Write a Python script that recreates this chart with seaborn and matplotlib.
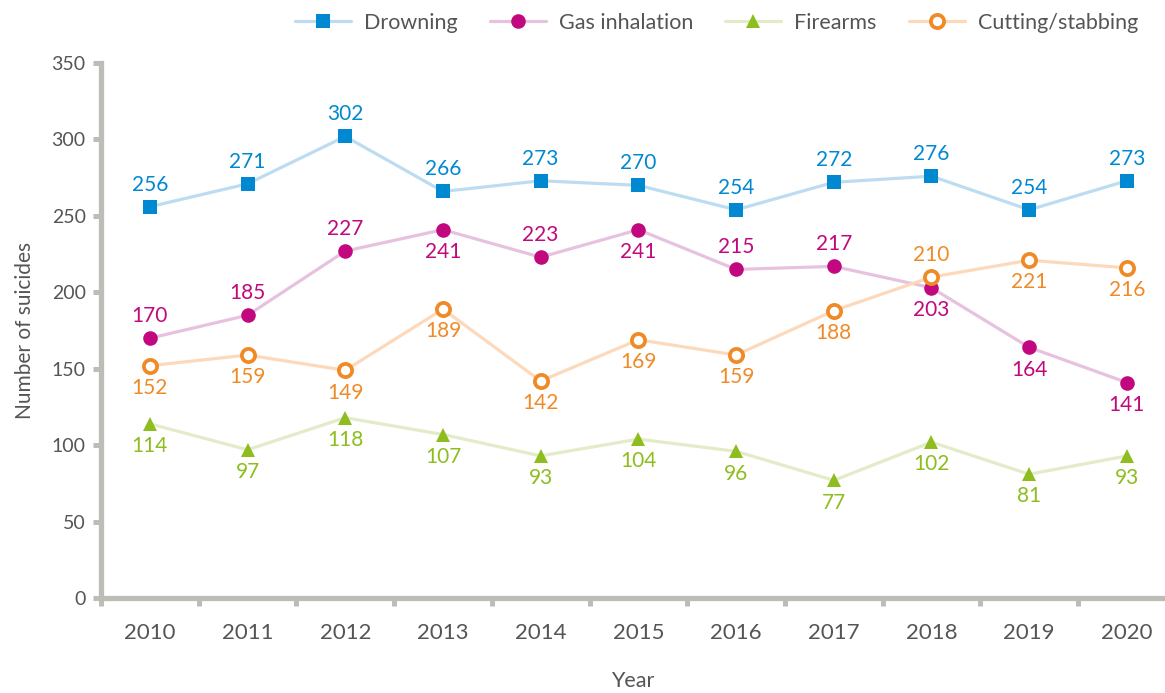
import matplotlib
matplotlib.use("Agg")
import matplotlib.pyplot as plt
import seaborn as sns
import pandas as pd

years = [2010, 2011, 2012, 2013, 2014, 2015, 2016, 2017, 2018, 2019, 2020]
drowning = [256, 271, 302, 266, 273, 270, 254, 272, 276, 254, 273]
gas = [170, 185, 227, 241, 223, 241, 215, 217, 203, 164, 141]
firearms = [114, 97, 118, 107, 93, 104, 96, 77, 102, 81, 93]
cutting = [152, 159, 149, 189, 142, 169, 159, 188, 210, 221, 216]

# label placement: 1 = above the marker, -1 = below
drowning_pos = [1] * 11
gas_pos = [1, 1, 1, -1, 1, -1, 1, 1, -1, -1, -1]
firearms_pos = [-1] * 11
cutting_pos = [-1, -1, -1, -1, -1, -1, -1, -1, 1, -1, -1]

series = [
    ("Drowning", drowning, drowning_pos, "#0088d1", "#bddcf2", "s", True),
    ("Gas inhalation", gas, gas_pos, "#c1087f", "#e7c2de", "o", True),
    ("Firearms", firearms, firearms_pos, "#8dbd1e", "#e3ecc9", "^", True),
    ("Cutting/stabbing", cutting, cutting_pos, "#f08a26", "#fdd9bc", "o", False),
]

sns.set_style("white")
plt.rcParams["font.family"] = ["Lato", "DejaVu Sans"]

axis_grey = "#bdbdb7"
text_grey = "#555555"

fig = plt.figure(figsize=(11.65, 6.93), dpi=100)
ax = fig.add_axes([0.0867, 0.137, 0.9133, 0.772])

for name, vals, pos, dark, light, mk, filled in series:
    df = pd.DataFrame({"year": years, "value": vals})
    sns.lineplot(data=df, x="year", y="value", ax=ax, color=light, linewidth=2.3,
                 marker=mk, markersize=10.5 if filled else 9.5,
                 markerfacecolor=dark if filled else "white",
                 markeredgecolor=dark, markeredgewidth=0 if filled else 2.7,
                 label=name)
    for x, v, p in zip(years, vals, pos):
        ax.annotate(str(v), (x, v), xytext=(0, 16 * p), textcoords="offset points",
                    ha="center", va="center", fontsize=15, color=dark)

ax.set_ylim(0, 350)
ax.set_xlim(2009.5, 2020.39)
ax.set_yticks(range(0, 351, 50))
ax.set_xticks(years)
ax.set_xticks([y - 0.5 for y in years], minor=True)

for side in ["top", "right"]:
    ax.spines[side].set_visible(False)
for side in ["left", "bottom"]:
    ax.spines[side].set_color(axis_grey)
    ax.spines[side].set_linewidth(3.8)

ax.tick_params(axis="y", which="major", left=True, length=6, width=3.6, color=axis_grey,
               labelsize=14, labelcolor=text_grey, pad=5)
ax.tick_params(axis="x", which="major", bottom=True, length=0, labelsize=16,
               labelcolor=text_grey, pad=18)
ax.tick_params(axis="x", which="minor", bottom=True, length=6, width=3.6, color=axis_grey)

ax.set_xlabel("Year", fontsize=15.5, color=text_grey, labelpad=20)
ax.set_ylabel("Number of suicides", fontsize=15, color=text_grey, labelpad=12)

ax.legend(loc="upper right", bbox_to_anchor=(0.993, 1.13), ncol=4, frameon=False,
          fontsize=15.5, labelcolor=text_grey, handlelength=2.6, columnspacing=1.5,
          handletextpad=0.6)

fig.savefig("out.png", dpi=100)
